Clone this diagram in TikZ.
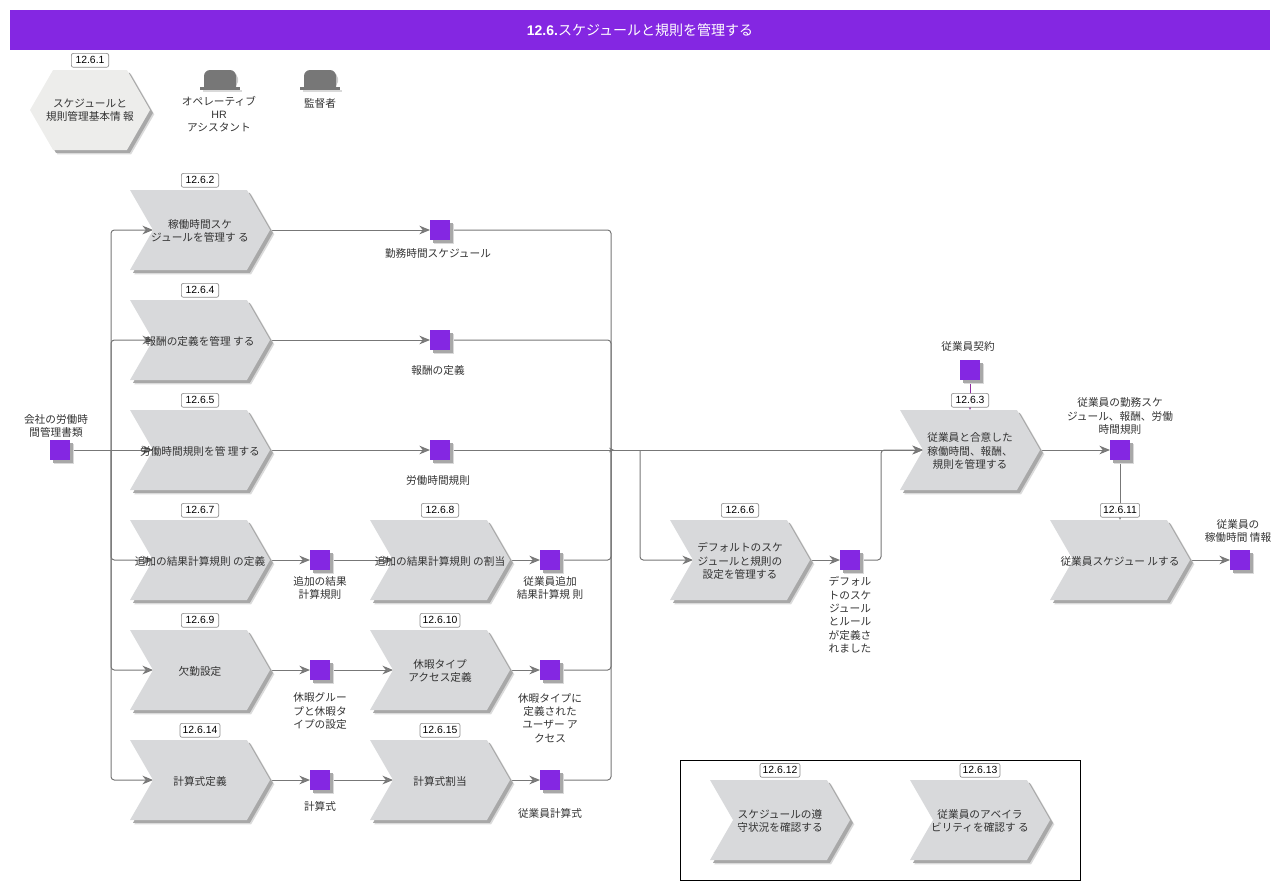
\documentclass[tikz,border=0pt]{standalone}
\usepackage{fontspec}
\setmainfont{Noto Sans CJK JP}
\newfontfamily\tagfont{Liberation Sans}
\usetikzlibrary{positioning,shapes.symbols,shadows,arrows.meta,backgrounds}

\definecolor{barpurple}{HTML}{8427E2}
\definecolor{procgray}{HTML}{D8D9DB}
\definecolor{hexgray}{HTML}{EDEDEB}
\definecolor{linegray}{HTML}{777777}
\definecolor{tipgray}{HTML}{808080}
\definecolor{shadegray}{HTML}{A8A8A8}
\definecolor{shadelight}{HTML}{DADADA}
\definecolor{txtgray}{HTML}{333333}
\definecolor{linkpurple}{HTML}{8E2C9E}

\tikzset{
    softshadow/.style={drop shadow={shadow xshift=3.2pt,shadow yshift=-3.2pt,fill=shadelight,opacity=1},
        drop shadow={shadow xshift=2.2pt,shadow yshift=-2.2pt,fill=shadegray,opacity=1}},
    proc/.style={shape=signal,signal from=west,signal to=east,signal pointer angle=120,
        minimum width=105pt,minimum height=60pt,inner sep=0pt,outer sep=0pt,
        fill=procgray,softshadow},
    hexa/.style={proc,signal from=nowhere,signal to=east and west,minimum width=90pt,fill=hexgray},
    datum/.style={rectangle,minimum size=15pt,inner sep=0pt,outer sep=0pt,fill=barpurple,softshadow},
    captxt/.style={align=center,inner sep=0pt,text=txtgray,yshift=-0.75pt,font=\fontsize{8pt}{10pt}\selectfont},
    tagbox/.style={rectangle,rounded corners=1.5pt,draw=black!45,line width=0.5pt,fill=white,
        minimum height=10.4pt,minimum width=28pt,inner xsep=2pt,inner ysep=0pt,
        above=1.8pt of #1,font=\tagfont\fontsize{7.8pt}{9pt}\selectfont},
    link/.style={draw=linegray,line width=0.75pt,rounded corners=2.5pt},
    flow/.style={link,-{Stealth[length=8pt,width=6.5pt,fill=tipgray]}},
    hat/.pic={
        \fill[black!15] (-17,20) rectangle (22,22);
        \fill[black!20,rounded corners=4pt] (-12,17) -- (-12,3) -- (18,3) -- (18,17) -- cycle;
        \fill[linegray] (-16,18) [rounded corners=4.5pt] -- (-16,0) -- (16,0) [sharp corners] -- (16,18) -- cycle;
        \fill[linegray] (-20,17) rectangle (20,20);
    }
}

\begin{document}
\begin{tikzpicture}[x=0.75pt,y=-0.75pt]
    \useasboundingbox (0,0) rectangle (1284,890);

    % title
    \node[rectangle,fill=barpurple,minimum width=945pt,minimum height=30pt,inner sep=0pt,text=white,
        font=\fontsize{10.5pt}{12pt}\selectfont] (title) at (640,30)
        {{\tagfont\bfseries 12.6.}スケジュールと規則を管理する};

    % overview row
    \node[hexa] (c1) at (90,110) {};
    \node[captxt] (c1t) at (90,109) {スケジュールと\\規則管理基本情 報};
    \node[tagbox=c1] (t1) {12.6.1};
    \pic at (220,70) {hat};
    \pic at (320,70) {hat};
    \node[captxt] (role1) at (219,113) {オペレーティブ\\{\tagfont HR}\\アシスタント};
    \node[captxt] (role2) at (320,102) {監督者};

    % processes
    \node[proc] (c2) at (200,230) {};
    \node[proc] (c4) at (200,340) {};
    \node[proc] (c5) at (200,450) {};
    \node[proc] (c7) at (200,560) {};
    \node[proc] (c9) at (200,670) {};
    \node[proc] (c14) at (200,780) {};
    \node[proc] (c8) at (440,560) {};
    \node[proc] (c10) at (440,670) {};
    \node[proc] (c15) at (440,780) {};
    \node[proc] (c6) at (740,560) {};
    \node[proc] (c3) at (970,450) {};
    \node[proc] (c11) at (1120,560) {};

    \node[captxt] (c2t) at (c2) {稼働時間スケ\\ジュールを管理す る};
    \node[captxt] (c4t) at (c4) {報酬の定義を管理 する};
    \node[captxt] (c5t) at (c5) {労働時間規則を管 理する};
    \node[captxt] (c7t) at (c7) {追加の結果計算規則 の定義};
    \node[captxt] (c9t) at (c9) {欠勤設定};
    \node[captxt] (c14t) at (c14) {計算式定義};
    \node[captxt] (c8t) at (c8) {追加の結果計算規則 の割当};
    \node[captxt] (c10t) at (c10) {休暇タイプ\\アクセス定義};
    \node[captxt] (c15t) at (c15) {計算式割当};
    \node[captxt] (c6t) at (c6) {デフォルトのスケ\\ジュールと規則の\\設定を管理する};
    \node[captxt] (c3t) at (c3) {従業員と合意した\\稼働時間、報酬、\\規則を管理する};
    \node[captxt] (c11t) at (c11) {従業員スケジュー ルする};

    \node[tagbox=c2] (t2) {12.6.2};
    \node[tagbox=c4] (t4) {12.6.4};
    \node[tagbox=c5] (t5) {12.6.5};
    \node[tagbox=c7] (t7) {12.6.7};
    \node[tagbox=c9] (t9) {12.6.9};
    \node[tagbox=c14] (t14) {12.6.14};
    \node[tagbox=c8] (t8) {12.6.8};
    \node[tagbox=c10] (t10) {12.6.10};
    \node[tagbox=c15] (t15) {12.6.15};
    \node[tagbox=c6] (t6) {12.6.6};
    \node[tagbox=c3] (t3) {12.6.3};
    \node[tagbox=c11] (t11) {12.6.11};

    % data objects
    \node[datum] (d0) at (60,450) {};
    \node[datum] (d2) at (440,230) {};
    \node[datum] (d4) at (440,340) {};
    \node[datum] (d5) at (440,450) {};
    \node[datum] (d7) at (320,560) {};
    \node[datum] (d8) at (550,560) {};
    \node[datum] (d9) at (320,670) {};
    \node[datum] (d10) at (550,670) {};
    \node[datum] (d14) at (320,780) {};
    \node[datum] (d15) at (550,780) {};
    \node[datum] (d6) at (850,560) {};
    \node[datum] (dc) at (970,370) {};
    \node[datum] (d3) at (1120,450) {};
    \node[datum] (d11) at (1240,560) {};

    \node[captxt] (d0t) at (56,425) {会社の労働時\\間管理書類};
    \node[captxt] (d2t) at (438,252) {勤務時間スケジュール};
    \node[captxt] (d4t) at (438,369) {報酬の定義};
    \node[captxt] (d5t) at (438,479) {労働時間規則};
    \node[captxt] (d7t) at (320,587) {追加の結果\\計算規則};
    \node[captxt] (d8t) at (550,587) {従業員追加\\結果計算規 則};
    \node[captxt] (d9t) at (320,710) {休暇グルー\\プと休暇タ\\イプの設定};
    \node[captxt] (d10t) at (550,717) {休暇タイプに\\定義された\\ユーザー ア\\クセス};
    \node[captxt] (d14t) at (320,805) {計算式};
    \node[captxt] (d15t) at (550,812) {従業員計算式};
    \node[captxt] (d6t) at (850,614) {デフォル\\トのスケ\\ジュール\\とルール\\が定義さ\\れました};
    \node[captxt] (dct) at (968,345) {従業員契約};
    \node[captxt] (d3t) at (1120,415) {従業員の勤務スケ\\ジュール、報酬、労働\\時間規則};
    \node[captxt] (d11t) at (1238,530) {従業員の\\稼働時間 情報};

    % separate group
    \draw[black,line width=0.75pt] (680.5,760.5) rectangle (1080.5,880.5);
    \node[proc] (c12) at (780,820) {};
    \node[proc] (c13) at (980,820) {};
    \node[captxt] (c12t) at (c12) {スケジュールの遵\\守状況を確認する};
    \node[captxt] (c13t) at (c13) {従業員のアベイラ\\ビリティを確認す る};
    \node[tagbox=c12] (t12) {12.6.12};
    \node[tagbox=c13] (t13) {12.6.13};

    % connectors
    \coordinate (busl) at (111,450);
    \coordinate (merge) at (611,450);
    \coordinate (fork) at (640,450);
    \coordinate (join) at (881,450);
    \begin{scope}[on background layer,transform canvas={xshift=0.375pt,yshift=-0.375pt}]
        \draw[flow] (d0.east) -- (c5.west);
        \draw[flow] (busl) |- (c2.west);
        \draw[flow] (busl) |- (c4.west);
        \draw[flow] (busl) |- (c7.west);
        \draw[flow] (busl) |- (c9.west);
        \draw[flow] (busl) |- (c14.west);

        \draw[flow] (c2.east) -- (d2.west);
        \draw[flow] (c4.east) -- (d4.west);
        \draw[flow] (c5.east) -- (d5.west);
        \draw[flow] (c7.east) -- (d7.west);
        \draw[flow] (c9.east) -- (d9.west);
        \draw[flow] (c14.east) -- (d14.west);
        \draw[flow] (d7.east) -- (c8.west);
        \draw[flow] (d9.east) -- (c10.west);
        \draw[flow] (d14.east) -- (c15.west);
        \draw[flow] (c8.east) -- (d8.west);
        \draw[flow] (c10.east) -- (d10.west);
        \draw[flow] (c15.east) -- (d15.west);

        \draw[link] (d2.east) -| (merge);
        \draw[link] (d4.east) -| (merge);
        \draw[link] (d8.east) -| (merge);
        \draw[link] (d10.east) -| (merge);
        \draw[link] (d15.east) -| (merge);
        \draw[link,-{Stealth[length=4pt,width=3.5pt]}] (d5.east) -- ([xshift=2.5pt]merge);
        \draw[flow] (merge) -- (c3.west);
        \draw[flow] (fork) |- (c6.west);
        \draw[flow] (c6.east) -- (d6.west);
        \draw[flow] (d6.east) -| (join) -- (c3.west);

        \draw[flow,draw=linkpurple] (dc.south) -- (c3.north);
        \draw[flow] (c3.east) -- (d3.west);
        \draw[flow] (d3.south) -- (c11.north);
        \draw[flow] (c11.east) -- (d11.west);
    \end{scope}
\end{tikzpicture}
\end{document}
